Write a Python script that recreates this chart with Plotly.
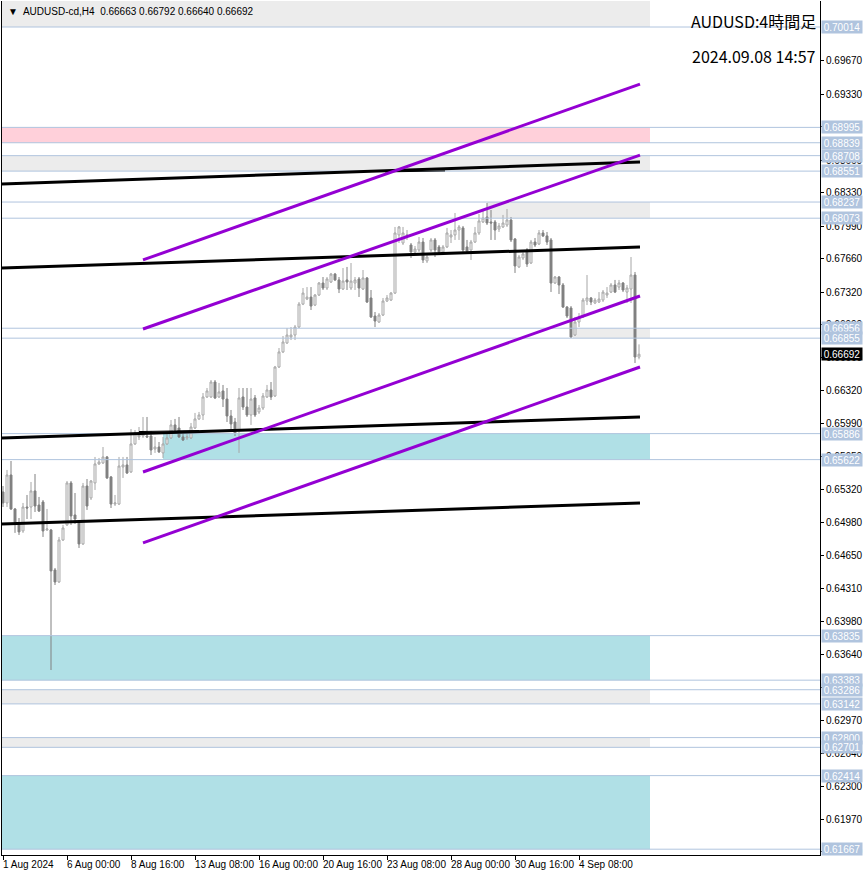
import plotly.graph_objects as go

# ---------------- data ----------------
bar_open = [0.65294,0.65182,0.65466,0.65121,0.64979,0.64898,0.65141,0.65141,0.65304,0.65161,
            0.65192,0.64908,0.64908,0.64502,0.64380,0.64806,0.64959,0.65385,0.65060,0.64979,
            0.64766,0.65354,0.65233,0.65385,0.65578,0.65588,0.65649,0.65446,0.65171,0.65171,
            0.65547,0.65568,0.65497,0.65781,0.65852,0.65862,0.65862,0.65862,0.65730,0.65750,
            0.65690,0.65781,0.65842,0.65974,0.65943,0.65852,0.65842,0.65842,0.65943,0.66035,
            0.66075,0.66258,0.66258,0.66410,0.66258,0.66319,0.66237,0.66065,0.66004,0.65923,
            0.66258,0.66156,0.66075,0.66248,0.66106,0.66146,0.66258,0.66329,0.66268,0.66562,
            0.66715,0.66806,0.66867,0.66887,0.66968,0.67201,0.67252,0.67272,0.67191,0.67293,
            0.67415,0.67364,0.67425,0.67506,0.67446,0.67354,0.67446,0.67364,0.67415,0.67456,
            0.67354,0.67466,0.67263,0.67080,0.67019,0.67090,0.67232,0.67242,0.67313,0.67903,
            0.67821,0.67893,0.67801,0.67730,0.67750,0.67831,0.67639,0.67750,0.67852,0.67781,
            0.67730,0.67781,0.67882,0.67903,0.67953,0.67974,0.67781,0.67750,0.67831,0.67923,
            0.68035,0.68085,0.68035,0.68035,0.67963,0.67984,0.68004,0.68055,0.67862,0.67578,
            0.67669,0.67750,0.67618,0.67831,0.67811,0.67923,0.67893,0.67852,0.67415,0.67476,
            0.67395,0.67171,0.67161,0.66887,0.67019,0.67070,0.67232,0.67263,0.67212,0.67222,
            0.67242,0.67293,0.67323,0.67395,0.67374,0.67415,0.67323,0.67354,0.67496,0.66663]
bar_high = [0.65354,0.65517,0.65608,0.65131,0.65029,0.65182,0.65263,0.65395,0.65476,0.65243,
            0.65212,0.65121,0.64918,0.64522,0.64837,0.64959,0.65405,0.65405,0.65283,0.65009,
            0.65385,0.65425,0.65415,0.65649,0.65639,0.65750,0.65659,0.65456,0.65263,0.65649,
            0.65649,0.65649,0.65933,0.65923,0.65953,0.66055,0.66055,0.65913,0.65852,0.65801,
            0.65852,0.65903,0.66024,0.66035,0.66055,0.65913,0.65903,0.65994,0.66096,0.66106,
            0.66298,0.66349,0.66430,0.66430,0.66400,0.66380,0.66349,0.66126,0.66045,0.66349,
            0.66349,0.66349,0.66349,0.66278,0.66177,0.66298,0.66380,0.66410,0.66573,0.66755,
            0.66877,0.66958,0.66968,0.66989,0.67222,0.67364,0.67374,0.67374,0.67303,0.67425,
            0.67476,0.67476,0.67517,0.67517,0.67476,0.67567,0.67578,0.67618,0.67476,0.67476,
            0.67547,0.67476,0.67344,0.67121,0.67110,0.67263,0.67293,0.67323,0.67984,0.67994,
            0.67984,0.67953,0.67821,0.67791,0.67882,0.67872,0.67700,0.67872,0.67872,0.67801,
            0.67801,0.67974,0.67953,0.68126,0.68004,0.67994,0.67852,0.67852,0.67984,0.68116,
            0.68156,0.68227,0.68156,0.68055,0.68024,0.68106,0.68166,0.68085,0.67872,0.67700,
            0.67730,0.67770,0.67852,0.67872,0.67953,0.67953,0.67933,0.67872,0.67486,0.67486,
            0.67415,0.67181,0.67181,0.67070,0.67110,0.67263,0.67496,0.67273,0.67263,0.67323,
            0.67344,0.67374,0.67415,0.67446,0.67446,0.67425,0.67395,0.67679,0.67527,0.66792]
bar_low = [0.65141,0.65141,0.65111,0.64878,0.64857,0.64878,0.65019,0.65019,0.65090,0.65090,
           0.64837,0.64898,0.63486,0.64349,0.64370,0.64796,0.64949,0.64959,0.64969,0.64725,
           0.64756,0.65111,0.65212,0.65314,0.65568,0.65578,0.65425,0.65131,0.65151,0.65161,
           0.65436,0.65476,0.65486,0.65771,0.65821,0.65842,0.65842,0.65669,0.65690,0.65690,
           0.65639,0.65771,0.65831,0.65893,0.65842,0.65811,0.65821,0.65831,0.65933,0.66024,
           0.66024,0.66248,0.66248,0.66237,0.66248,0.66156,0.66004,0.65903,0.65862,0.65690,
           0.66126,0.66055,0.65974,0.66055,0.66085,0.66126,0.66248,0.66227,0.66258,0.66552,
           0.66704,0.66796,0.66836,0.66836,0.66958,0.67191,0.67242,0.67141,0.67181,0.67283,
           0.67344,0.67344,0.67415,0.67435,0.67313,0.67344,0.67344,0.67344,0.67344,0.67273,
           0.67344,0.67212,0.67060,0.66968,0.67009,0.67080,0.67222,0.67232,0.67303,0.67821,
           0.67801,0.67852,0.67669,0.67700,0.67730,0.67618,0.67618,0.67730,0.67679,0.67710,
           0.67720,0.67770,0.67821,0.67852,0.67852,0.67730,0.67730,0.67649,0.67821,0.67903,
           0.68024,0.68004,0.67852,0.67852,0.67933,0.67974,0.67984,0.67831,0.67517,0.67567,
           0.67649,0.67578,0.67608,0.67781,0.67801,0.67882,0.67801,0.67324,0.67405,0.67303,
           0.67161,0.67060,0.66857,0.66877,0.66968,0.67060,0.67191,0.67191,0.67201,0.67212,
           0.67222,0.67263,0.67313,0.67313,0.67344,0.67323,0.67212,0.67212,0.66603,0.66640]
bar_close = [0.65182,0.65466,0.65121,0.64989,0.64888,0.65141,0.65131,0.65304,0.65151,0.65100,
             0.64898,0.64918,0.64492,0.64380,0.64806,0.64928,0.65385,0.65050,0.65019,0.64766,
             0.65354,0.65151,0.65405,0.65578,0.65598,0.65649,0.65436,0.65171,0.65182,0.65557,
             0.65568,0.65486,0.65781,0.65893,0.65872,0.65882,0.65852,0.65720,0.65750,0.65700,
             0.65781,0.65842,0.65974,0.65923,0.65852,0.65821,0.65852,0.65953,0.66035,0.66075,
             0.66258,0.66319,0.66410,0.66248,0.66309,0.66237,0.66065,0.65984,0.65893,0.66248,
             0.66156,0.66075,0.66237,0.66075,0.66146,0.66268,0.66329,0.66258,0.66562,0.66715,
             0.66816,0.66887,0.66887,0.66968,0.67201,0.67313,0.67272,0.67181,0.67293,0.67415,
             0.67364,0.67456,0.67506,0.67446,0.67354,0.67435,0.67425,0.67435,0.67446,0.67364,
             0.67466,0.67222,0.67070,0.67029,0.67090,0.67232,0.67263,0.67313,0.67923,0.67984,
             0.67923,0.67903,0.67730,0.67760,0.67831,0.67649,0.67679,0.67852,0.67750,0.67730,
             0.67781,0.67923,0.67903,0.67953,0.67984,0.67750,0.67740,0.67831,0.67923,0.68045,
             0.68075,0.68024,0.68024,0.67953,0.67994,0.68024,0.68055,0.67852,0.67588,0.67679,
             0.67710,0.67608,0.67831,0.67801,0.67923,0.67893,0.67831,0.67415,0.67476,0.67395,
             0.67171,0.67080,0.66867,0.67019,0.67070,0.67242,0.67263,0.67222,0.67242,0.67252,
             0.67323,0.67313,0.67395,0.67323,0.67415,0.67344,0.67364,0.67496,0.66664,0.66692]

date_tick_bars = [0, 16, 32, 48, 64, 80, 96, 112, 128, 144]
date_tick_labels = ["1 Aug 2024", "6 Aug 00:00", "8 Aug 16:00", "13 Aug 08:00", "16 Aug 00:00",
                    "20 Aug 16:00", "23 Aug 08:00", "28 Aug 00:00", "30 Aug 16:00", "4 Sep 08:00"]

price_ticks = [0.69670, 0.69330, 0.69000, 0.68660, 0.68330, 0.67990, 0.67660, 0.67320, 0.66990,
               0.66660, 0.66320, 0.65990, 0.65650, 0.65320, 0.64980, 0.64650, 0.64310, 0.63980,
               0.63640, 0.63310, 0.62970, 0.62640, 0.62300, 0.61970, 0.61640]

level_prices = [0.70014, 0.68995, 0.68839, 0.68708, 0.68551, 0.68237, 0.68073, 0.66956, 0.66855,
                0.65886, 0.65622, 0.63835, 0.63383, 0.63286, 0.63142, 0.62800, 0.62701, 0.62414,
                0.61667]

zone_low = [0.70014, 0.68839, 0.68551, 0.68073, 0.66855, 0.65622, 0.63383, 0.63142, 0.62701, 0.61667]
zone_high = [0.70400, 0.68995, 0.68708, 0.68237, 0.66956, 0.65886, 0.63835, 0.63286, 0.62800, 0.62414]
zone_start_bar = [-2, -2, -2, 121, 142.5, 40, -2, -2, -2, -2]
zone_end_bar = [161.75] * 10
zone_color = ["#ececec", "#ffd0da", "#ececec", "#ececec", "#ececec", "#b0e0e6",
              "#b0e0e6", "#ececec", "#ececec", "#b0e0e6"]

# trend lines: (start bar, start price, end bar, end price)
black_x0 = [-0.25, -0.25, -0.25, -0.25]
black_p0 = [0.68420, 0.67567, 0.65841, 0.64968]
black_x1 = [159.25, 159.25, 159.25, 159.25]
black_p1 = [0.68643, 0.67780, 0.66055, 0.65182]

purple_x0 = [35, 35, 35, 35]
purple_p0 = [0.67649, 0.66948, 0.65496, 0.64776]
purple_x1 = [159.25, 159.25, 159.25, 159.25]
purple_p1 = [0.69435, 0.68714, 0.67283, 0.66562]

thin_x0 = [34, 95.5]
thin_p0 = [0.65907, 0.68543]
thin_x1 = [49, 110.5]
thin_p1 = [0.65917, 0.68553]

symbol_header = "▼  AUDUSD-cd,H4  0.66663 0.66792 0.66640 0.66692"
title_text = "AUDUSD:4時間足"
stamp_text = "2024.09.08 14:57"

# ---------------- figure ----------------
x_idx = list(range(len(bar_open)))
fig = go.Figure()

fig.add_trace(go.Candlestick(
    x=x_idx, open=bar_open, high=bar_high, low=bar_low, close=bar_close,
    increasing=dict(line=dict(color="#a6a6a6", width=1), fillcolor="#ffffff"),
    decreasing=dict(line=dict(color="#808080", width=1), fillcolor="#808080"),
    whiskerwidth=0, hoverinfo="skip", showlegend=False,
))

shapes = []
for lo, hi, xs, xe, col in zip(zone_low, zone_high, zone_start_bar, zone_end_bar, zone_color):
    shapes.append(dict(type="rect", xref="x", yref="y", x0=xs, x1=xe, y0=lo, y1=hi,
                       fillcolor=col, line=dict(width=0), layer="below"))
for p in level_prices:
    shapes.append(dict(type="line", xref="paper", yref="y", x0=0, x1=1, y0=p, y1=p,
                       line=dict(color="#b0c4de", width=1), layer="above"))
for a, b, c, d in zip(thin_x0, thin_p0, thin_x1, thin_p1):
    shapes.append(dict(type="line", xref="x", yref="y", x0=a, y0=b, x1=c, y1=d,
                       line=dict(color="#000000", width=1), layer="above"))
for a, b, c, d in zip(black_x0, black_p0, black_x1, black_p1):
    shapes.append(dict(type="line", xref="x", yref="y", x0=a, y0=b, x1=c, y1=d,
                       line=dict(color="#000000", width=3), layer="above"))
for a, b, c, d in zip(purple_x0, purple_p0, purple_x1, purple_p1):
    shapes.append(dict(type="line", xref="x", yref="y", x0=a, y0=b, x1=c, y1=d,
                       line=dict(color="#9400d3", width=3), layer="above"))

annotations = []
for p in level_prices:
    annotations.append(dict(x=1, xref="paper", y=p, yref="y", xanchor="left", yanchor="middle",
                            xshift=1, text=f"{p:.5f}", showarrow=False, bgcolor="#b0c4de",
                            width=40, height=12, align="center", valign="middle",
                            borderpad=0, font=dict(family="Liberation Sans", size=10, color="#ffffff")))
last_close = bar_close[-1]
annotations.append(dict(x=1, xref="paper", y=last_close, yref="y", xanchor="left", yanchor="middle",
                        xshift=1, text=f"{last_close:.5f}", showarrow=False, bgcolor="#000000",
                        width=40, height=12, align="center", valign="middle",
                        borderpad=0, font=dict(family="Liberation Sans", size=10, color="#ffffff")))
for b, t in zip(date_tick_bars, date_tick_labels):
    annotations.append(dict(x=b, xref="x", y=0, yref="paper", xanchor="left", yanchor="top",
                            xshift=-2, yshift=-2, text=t, showarrow=False,
                            font=dict(family="Liberation Sans", size=10, color="#000000")))
annotations.append(dict(x=0, xref="paper", y=1, yref="paper", xanchor="left", yanchor="top",
                        xshift=4, yshift=-3, text=symbol_header, showarrow=False,
                        font=dict(family="Liberation Sans", size=10, color="#000000")))
annotations.append(dict(x=1, xref="paper", y=1, yref="paper", xanchor="right", yanchor="top",
                        xshift=-2, yshift=-6, text=title_text, showarrow=False,
                        font=dict(family="Noto Sans CJK JP", size=16, color="#000000")))
annotations.append(dict(x=1, xref="paper", y=1, yref="paper", xanchor="right", yanchor="top",
                        xshift=-2, yshift=-41, text=stamp_text, showarrow=False,
                        font=dict(family="Noto Sans CJK JP", size=16, color="#000000")))

fig.update_layout(
    width=866, height=876,
    margin=dict(l=2, r=46, t=1, b=21),
    paper_bgcolor="#ffffff", plot_bgcolor="#ffffff",
    showlegend=False,
    shapes=shapes, annotations=annotations,
    xaxis=dict(range=[-0.25, 204.25], rangeslider=dict(visible=False), showgrid=False,
               zeroline=False, showline=True, linecolor="#000000", linewidth=1,
               tickvals=date_tick_bars, ticktext=[""] * len(date_tick_bars),
               ticks="outside", ticklen=4, tickcolor="#000000"),
    yaxis=dict(range=[0.61608, 0.70278], side="right", showgrid=False, zeroline=False,
               showline=True, linecolor="#000000", linewidth=1, mirror=True,
               tickvals=price_ticks, ticktext=[f"{v:.5f}" for v in price_ticks],
               ticks="outside", ticklen=3, tickcolor="#000000",
               tickfont=dict(family="Liberation Sans", size=10, color="#000000")),
)

fig.write_html("out.html", config={"displayModeBar": False},
               post_script="document.body.style.margin='0';document.body.style.overflow='hidden';")
